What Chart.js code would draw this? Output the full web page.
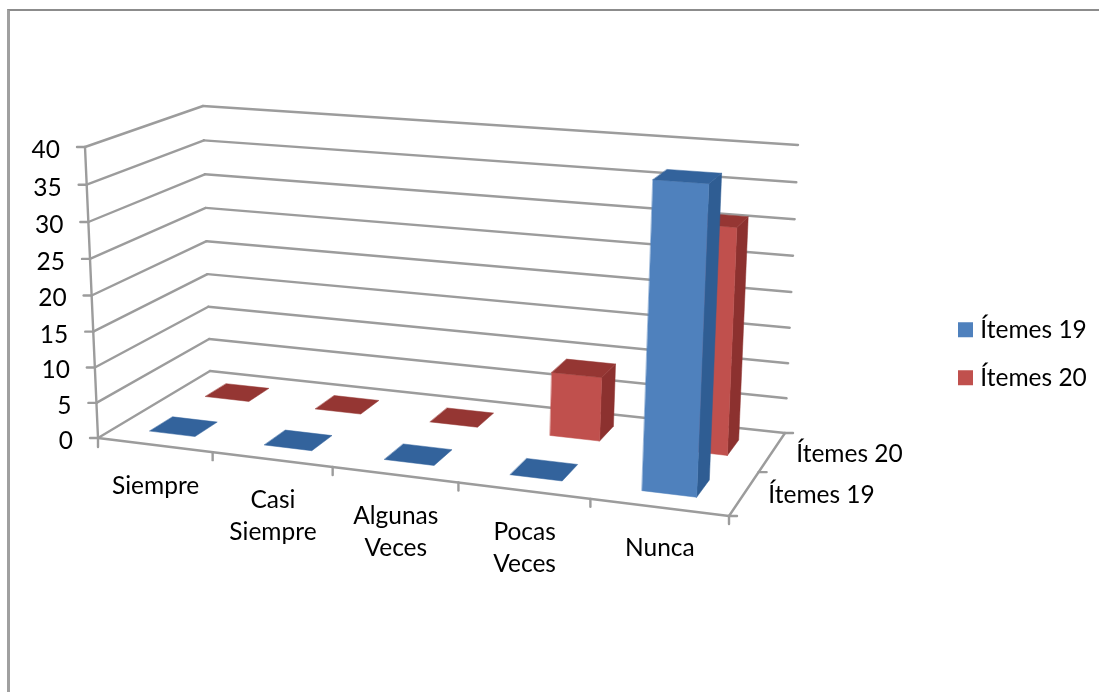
<!DOCTYPE html>
<html>
<head>
<meta charset="utf-8">
<title>Ítemes 19 y 20</title>
<script src="https://cdn.jsdelivr.net/npm/chart.js@4/dist/chart.umd.min.js"></script>
<style>
  body { margin: 0; background: #fff; }
  #frame { position: absolute; left: 7px; top: 9px; right: 0; bottom: 0; border-top: 2px solid #8c8c8c; border-left: 3px solid #a0a0a0; }
  canvas { position: absolute; left: 0; top: 0; }
</style>
</head>
<body>
<div id="frame"></div>
<canvas id="grafico" width="1099" height="692"></canvas>
<script>
const categorias = ['Siempre', ['Casi', 'Siempre'], ['Algunas', 'Veces'], ['Pocas', 'Veces'], 'Nunca']
const items19 = [0, 0, 0, 0, 40]
const items20 = [0, 0, 0, 9, 31]
const nombres = ['Ítemes 19', 'Ítemes 20']
const colores = ['#4f81bd', '#c0504d']
const lados = ['#2f5d93', '#8c312f']
const tapas = ['#33639c', '#953633']

const FUENTE = '24.5px Lato'
const LINEA = '#9c9c9c'

// box of the 3D view in the page: front-left, front-right, back-right, back-left
const piso = [[98, 438], [729, 516], [785, 433], [210, 371]]
const techo = [[85, 147], [742, 195], [798, 145], [203, 106]]
// vertical foreshortening, gridlines get closer towards the floor
const FUGA = 0.96

function homografia(q) {
  const [[x0, y0], [x1, y1], [x2, y2], [x3, y3]] = q
  const dx1 = x1 - x2, dx2 = x3 - x2, sx = x0 - x1 + x2 - x3
  const dy1 = y1 - y2, dy2 = y3 - y2, sy = y0 - y1 + y2 - y3
  const den = dx1 * dy2 - dx2 * dy1
  const g = (sx * dy2 - dx2 * sy) / den
  const h = (dx1 * sy - sx * dy1) / den
  const a = x1 - x0 + g * x1, b = x3 - x0 + h * x3
  const d = y1 - y0 + g * y1, e = y3 - y0 + h * y3
  return (u, v) => {
    const w = g * u + h * v + 1
    return [(a * u + b * v + x0) / w, (d * u + e * v + y0) / w]
  }
}
const hPiso = homografia(piso)
const hTecho = homografia(techo)

// u along the categories, v into the depth, alto 0..1 up the value axis
function proyectar(u, v, alto) {
  const p = hPiso(u, v), t = hTecho(u, v)
  const s = FUGA * alto / (1 + (FUGA - 1) * alto)
  return [p[0] + (t[0] - p[0]) * s, p[1] + (t[1] - p[1]) * s]
}

function linea(ctx, a, b) {
  ctx.beginPath()
  ctx.moveTo(a[0], a[1])
  ctx.lineTo(b[0], b[1])
  ctx.stroke()
}

function cara(ctx, puntos, color) {
  ctx.fillStyle = color
  ctx.strokeStyle = color
  ctx.lineWidth = 0.5
  ctx.beginPath()
  puntos.forEach((p, i) => (i ? ctx.lineTo(p[0], p[1]) : ctx.moveTo(p[0], p[1])))
  ctx.closePath()
  ctx.fill()
  ctx.stroke()
}

const vista3d = {
  id: 'vista3d',
  afterLayout(chart) {
    // legend sits lower than the centred place Chart.js gives it
    chart.legend.left = 939.5
    chart.legend.top = 294
  },
  beforeDatasetsDraw(chart) {
    const { ctx, chartArea: area, scales } = chart
    const altoDe = y => (area.bottom - y) / area.height
    ctx.save()

    // walls and ticks
    ctx.strokeStyle = LINEA
    ctx.lineWidth = 2.4
    ctx.lineCap = 'round'
    scales.y.ticks.forEach(t => {
      const h = altoDe(scales.y.getPixelForValue(t.value))
      const a = proyectar(0, 0, h), b = proyectar(0, 1, h), c = proyectar(1, 1, h)
      linea(ctx, a, b)
      linea(ctx, b, c)
      linea(ctx, [a[0] - 8, a[1]], a)
    })
    linea(ctx, proyectar(0, 0, 0), proyectar(0, 0, 1))
    linea(ctx, proyectar(0, 0, 0), proyectar(1, 0, 0))
    linea(ctx, proyectar(1, 0, 0), proyectar(1, 1, 0))
    categorias.forEach((c, i) => {
      const p = proyectar((i + 1) / categorias.length, 0, 0)
      linea(ctx, p, [p[0], p[1] + 8])
    })
    const p0 = proyectar(0, 0, 0)
    linea(ctx, p0, [p0[0], p0[1] + 9])
    nombres.forEach((n, i) => {
      const p = proyectar(1, (i + 1) / nombres.length, 0)
      linea(ctx, p, [p[0] + 8, p[1]])
    })
    const pf = proyectar(1, 0, 0)
    linea(ctx, pf, [pf[0] + 8, pf[1]])

    // bars, back series first
    for (let d = chart.data.datasets.length - 1; d >= 0; d--) {
      const v0 = (d + 0.5) / nombres.length - 0.1
      const v1 = (d + 0.5) / nombres.length + 0.1
      chart.getDatasetMeta(d).data.forEach(barra => {
        const u0 = (barra.x - barra.width / 2 - area.left) / area.width
        const u1 = (barra.x + barra.width / 2 - area.left) / area.width
        const h = altoDe(barra.y)
        if (h > 0) {
          cara(ctx, [proyectar(u1, v0, 0), proyectar(u1, v1, 0), proyectar(u1, v1, h), proyectar(u1, v0, h)], lados[d])
          cara(ctx, [proyectar(u0, v0, 0), proyectar(u1, v0, 0), proyectar(u1, v0, h), proyectar(u0, v0, h)], colores[d])
        }
        cara(ctx, [proyectar(u0, v0, h), proyectar(u1, v0, h), proyectar(u1, v1, h), proyectar(u0, v1, h)], tapas[d])
      })
    }

    // axis labels, they follow the tilted axes
    ctx.fillStyle = '#000'
    ctx.font = FUENTE
    ctx.textBaseline = 'middle'
    ctx.textAlign = 'right'
    scales.y.ticks.forEach(t => {
      const p = proyectar(0, 0, altoDe(scales.y.getPixelForValue(t.value)))
      ctx.fillText(t.label, p[0] - 25, p[1] + 3)
    })
    ctx.textAlign = 'center'
    categorias.forEach((c, i) => {
      const p = proyectar((scales.x.getPixelForValue(i) - area.left) / area.width, 0, 0)
      const filas = [].concat(scales.x.getLabelForValue(i))
      filas.forEach((f, k) => ctx.fillText(f, p[0] + 1, p[1] + 41 + k * 32))
    })
    ctx.textAlign = 'left'
    nombres.forEach((n, i) => {
      const p = proyectar(1, (i + 0.5) / nombres.length, 0)
      ctx.fillText(n, p[0] + 24, p[1] + 2)
    })

    ctx.restore()
    return false
  }
}

new Chart(document.getElementById('grafico'), {
  type: 'bar',
  data: {
    labels: categorias,
    datasets: [
      { label: nombres[0], data: items19, backgroundColor: colores[0], borderWidth: 0 },
      { label: nombres[1], data: items20, backgroundColor: colores[1], borderWidth: 0 }
    ]
  },
  options: {
    responsive: false,
    animation: false,
    datasets: { bar: { grouped: false, barPercentage: 0.4, categoryPercentage: 1 } },
    layout: { padding: { left: 98, top: 147, bottom: 254 } },
    scales: {
      x: { display: false },
      y: { display: false, min: 0, max: 40, ticks: { stepSize: 5 } }
    },
    plugins: {
      tooltip: { enabled: false },
      legend: {
        position: 'right',
        align: 'start',
        labels: {
          usePointStyle: true,
          pointStyle: 'rect',
          boxWidth: 5,
          boxHeight: 15,
          padding: 23.5,
          color: '#000',
          font: { family: 'Lato', size: 24.5 }
        }
      }
    }
  },
  plugins: [vista3d]
})
</script>
</body>
</html>
